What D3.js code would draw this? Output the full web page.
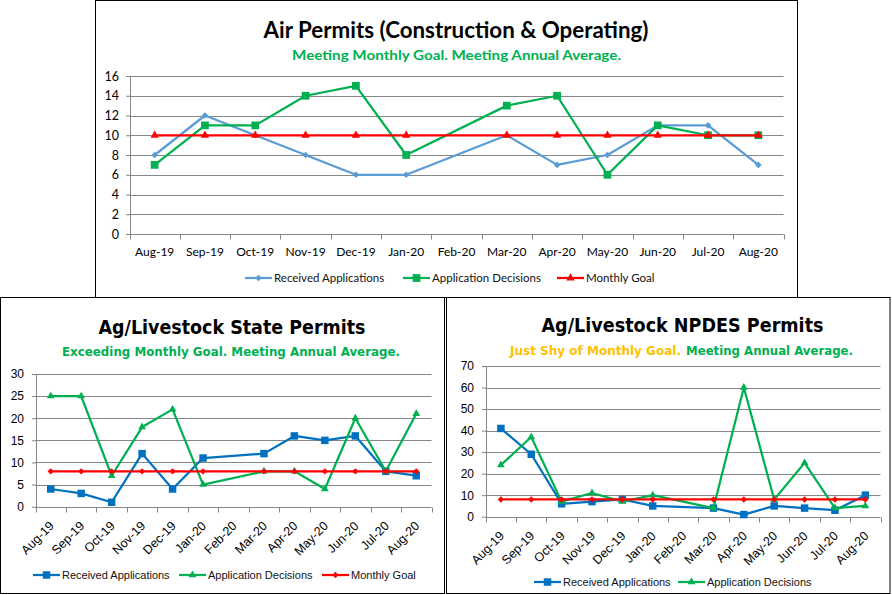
<!DOCTYPE html>
<html>
<head>
<meta charset="utf-8">
<script src="https://cdn.jsdelivr.net/npm/d3@7"></script>
<style>
  body { margin: 0; background: #fff; }
  svg { display: block; }
</style>
</head>
<body>
<svg></svg>
<script>
// months shown on every chart (Feb-20 has no data)
let months = ["Aug-19", "Sep-19", "Oct-19", "Nov-19", "Dec-19", "Jan-20", "Feb-20",
  "Mar-20", "Apr-20", "May-20", "Jun-20", "Jul-20", "Aug-20"];

let airReceived = [8, 12, 10, 8, 6, 6, null, 10, 7, 8, 11, 11, 7];
let airDecisions = [7, 11, 11, 14, 15, 8, null, 13, 14, 6, 11, 10, 10];
let airGoal = [10, 10, 10, 10, 10, 10, null, 10, 10, 10, 10, 10, 10];

let stateReceived = [4, 3, 1, 12, 4, 11, null, 12, 16, 15, 16, 8, 7];
let stateDecisions = [25, 25, 7, 18, 22, 5, null, 8, 8, 4, 20, 8, 21];
let stateGoal = [8, 8, 8, 8, 8, 8, null, 8, 8, 8, 8, 8, 8];

let npdesReceived = [41, 29, 6, 7, 8, 5, null, 4, 1, 5, 4, 3, 10];
let npdesDecisions = [24, 37, 7, 11, 7, 10, null, 4, 60, 8, 25, 4, 5];
let npdesGoal = [8, 8, 8, 8, 8, 8, null, 8, 8, 8, 8, 8, 8];

let seriesNames = ["Received Applications", "Application Decisions", "Monthly Goal"];

let width = 892;
let height = 595;
let svg = d3.select("svg").attr("width", width).attr("height", height);

let gridColor = "#868686";
let green = "#00B050";
let red = "#FF0000";
let calibriLike = "Lato, 'Liberation Sans', sans-serif";
let tahomaLike = "'Liberation Sans', Arial, sans-serif";
let tahomaBold = "'DejaVu Sans', Verdana, sans-serif";

let panels = [
  {
    box: [95.5, 0.5, 702, 297],
    plot: [129.5, 783.5, 234, 76],
    yMax: 16, yStep: 2, yPad: 7,
    small: calibriLike, smallSize: 12, xSize: 12,
    title: { text: "Air Permits (Construction & Operating)", x: 456, y: 38, size: 23, len: 385, font: calibriLike },
    subtitle: [{ text: "Meeting Monthly Goal. Meeting Annual Average.", color: green, x: 292, len: 329 }],
    subY: 60, subSize: 14,
    rotate: false,
    series: [
      { name: seriesNames[0], values: airReceived, color: "#5B9BD5", shape: d3.symbolSquare, size: 22, rot: 45 },
      { name: seriesNames[1], values: airDecisions, color: green, shape: d3.symbolSquare, size: 60, rot: 0 },
      { name: seriesNames[2], values: airGoal, color: red, shape: d3.symbolTriangle, size: 30, rot: 0 }
    ],
    legendY: 278,
    legendX: [245, 403, 557]
  },
  {
    box: [0.5, 297.5, 444, 296],
    plot: [35.5, 431.5, 506.7, 374],
    yMax: 30, yStep: 5, yPad: 8,
    small: tahomaLike, smallSize: 11.5, xSize: 12.5,
    title: { text: "Ag/Livestock State Permits", x: 232, y: 333.5, size: 19, len: 267, font: tahomaBold },
    subtitle: [{ text: "Exceeding Monthly Goal. Meeting Annual Average.", color: green, x: 62, len: 338 }],
    subY: 355.5, subSize: 12.5,
    rotate: true,
    series: [
      { name: seriesNames[0], values: stateReceived, color: "#0070C0", shape: d3.symbolSquare, size: 56, rot: 0 },
      { name: seriesNames[1], values: stateDecisions, color: green, shape: d3.symbolTriangle, size: 26, rot: 0 },
      { name: seriesNames[2], values: stateGoal, color: red, shape: d3.symbolSquare, size: 20, rot: 45 }
    ],
    legendY: 575,
    legendX: [33, 179, 322]
  },
  {
    box: [446.5, 297.5, 443.5, 296],
    plot: [485.7, 880.5, 516.7, 366],
    yMax: 70, yStep: 10, yPad: 8,
    small: tahomaLike, smallSize: 11.5, xSize: 12.5,
    title: { text: "Ag/Livestock NPDES Permits", x: 682.5, y: 332, size: 19, len: 282, font: tahomaBold },
    subtitle: [
      { text: "Just Shy of Monthly Goal.", color: "#FFC000", x: 510, len: 171 },
      { text: "Meeting Annual Average.", color: green, x: 686, len: 167 }
    ],
    subY: 354.5, subSize: 12.5,
    rotate: true,
    series: [
      { name: seriesNames[0], values: npdesReceived, color: "#0070C0", shape: d3.symbolSquare, size: 56, rot: 0 },
      { name: seriesNames[1], values: npdesDecisions, color: green, shape: d3.symbolTriangle, size: 26, rot: 0 },
      { name: seriesNames[2], values: npdesGoal, color: red, shape: d3.symbolSquare, size: 20, rot: 45 }
    ],
    legendY: 582,
    legendX: [534, 678]
  }
];

let drawPanel = (p) => {
  let g = svg.append("g");

  g.append("rect")
    .attr("x", p.box[0]).attr("y", p.box[1])
    .attr("width", p.box[2]).attr("height", p.box[3])
    .attr("fill", "#fff").attr("stroke", "#000").attr("stroke-width", 1);

  let x = d3.scaleBand().domain(months).range([p.plot[0], p.plot[1]]);
  let y = d3.scaleLinear().domain([0, p.yMax]).range([p.plot[2], p.plot[3]]);
  let cx = (m) => x(m) + x.bandwidth() / 2;
  let crisp = (v) => Math.round(v) + 0.5;

  // titles
  g.append("text")
    .attr("x", p.title.x).attr("y", p.title.y)
    .attr("text-anchor", "middle")
    .attr("font-family", p.title.font).attr("font-weight", "bold")
    .attr("font-size", p.title.size)
    .attr("textLength", p.title.len).attr("lengthAdjust", "spacingAndGlyphs")
    .text(p.title.text);

  p.subtitle.forEach((s) => {
    g.append("text")
      .attr("x", s.x).attr("y", p.subY)
      .attr("font-family", p.title.font).attr("font-weight", "bold")
      .attr("font-size", p.subSize).attr("fill", s.color)
      .attr("textLength", s.len).attr("lengthAdjust", "spacingAndGlyphs")
      .text(s.text);
  });

  // gridlines
  let yTicks = d3.range(0, p.yMax + 1, p.yStep);
  g.selectAll(".grid")
    .data(yTicks)
    .enter()
    .append("line")
    .attr("x1", p.plot[0]).attr("x2", p.plot[1])
    .attr("y1", (d) => crisp(y(d))).attr("y2", (d) => crisp(y(d)))
    .attr("stroke", gridColor).attr("stroke-width", 1);

  // y axis
  g.append("g")
    .attr("transform", `translate(${crisp(p.plot[0]) - 0.5},0)`)
    .call(d3.axisLeft(y).tickValues(yTicks).tickSize(4).tickSizeOuter(0).tickPadding(p.yPad))
    .call((a) => a.select(".domain").attr("stroke", gridColor))
    .call((a) => a.selectAll(".tick line").attr("stroke", gridColor))
    .call((a) => a.selectAll("text")
      .attr("font-family", p.small).attr("font-size", p.smallSize + 0.5).attr("fill", "#000"));

  // x ticks on category boundaries
  let bounds = months.map((m) => x(m)).concat([p.plot[1]]);
  g.selectAll(".xtick")
    .data(bounds)
    .enter()
    .append("line")
    .attr("x1", (d) => crisp(d)).attr("x2", (d) => crisp(d))
    .attr("y1", crisp(p.plot[2])).attr("y2", crisp(p.plot[2]) + 5)
    .attr("stroke", gridColor);

  // x labels
  let xa = g.append("g")
    .attr("transform", `translate(0,${p.plot[2]})`)
    .call(d3.axisBottom(x).tickSize(0).tickPadding(0));
  xa.select(".domain").remove();
  xa.selectAll("text")
    .attr("font-family", p.small).attr("font-size", p.xSize).attr("fill", "#000");
  if (p.rotate) {
    xa.selectAll("text")
      .attr("text-anchor", "end")
      .attr("dy", null)
      .attr("x", 4).attr("y", 20)
      .attr("transform", "rotate(-45,4,20)");
  } else {
    xa.selectAll("text").attr("dy", null).attr("y", 22);
  }

  // series
  p.series.forEach((s) => {
    let pts = months.map((m, i) => [m, s.values[i]]).filter((d) => d[1] != null);
    g.append("path")
      .datum(pts)
      .attr("d", d3.line().x((d) => cx(d[0])).y((d) => y(d[1])))
      .attr("fill", "none").attr("stroke", s.color)
      .attr("stroke-width", 2.25).attr("stroke-linejoin", "round");
    g.selectAll(null)
      .data(pts)
      .enter()
      .append("path")
      .attr("transform", (d) => `translate(${cx(d[0])},${y(d[1])}) rotate(${s.rot})`)
      .attr("d", d3.symbol().type(s.shape).size(s.size))
      .attr("fill", s.color);
  });

  // legend
  p.legendX.forEach((lx, i) => {
    let s = p.series[i];
    g.append("line")
      .attr("x1", lx).attr("x2", lx + 27)
      .attr("y1", p.legendY).attr("y2", p.legendY)
      .attr("stroke", s.color).attr("stroke-width", 2.25);
    g.append("path")
      .attr("transform", `translate(${lx + 13.5},${p.legendY}) rotate(${s.rot})`)
      .attr("d", d3.symbol().type(s.shape).size(s.size))
      .attr("fill", s.color);
    g.append("text")
      .attr("x", lx + 29).attr("y", p.legendY).attr("dy", "0.35em")
      .attr("font-family", p.small).attr("font-size", p.smallSize - 0.5)
      .attr("fill", "#111")
      .text(s.name);
  });
};

drawPanel(panels[0]);
drawPanel(panels[1]);
drawPanel(panels[2]);
</script>
</body>
</html>
